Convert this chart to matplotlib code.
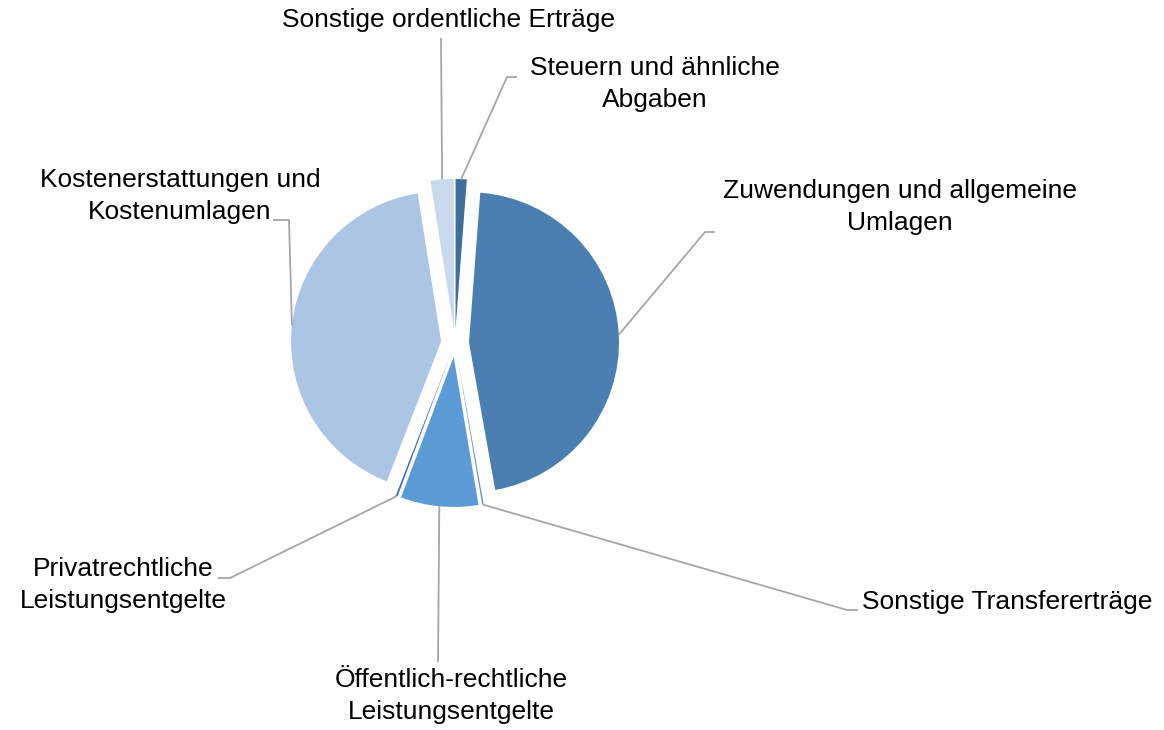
import numpy as np
import matplotlib
matplotlib.use("Agg")
import matplotlib.pyplot as plt

plt.rcParams['font.family'] = ['Liberation Sans', 'DejaVu Sans']

# shares in percent, clockwise from 12 o'clock
labels = ['Steuern und ähnliche\nAbgaben',
          'Zuwendungen und allgemeine\nUmlagen',
          'Sonstige Transfererträge',
          'Öffentlich-rechtliche\nLeistungsentgelte',
          'Privatrechtliche\nLeistungsentgelte',
          'Kostenerstattungen und\nKostenumlagen',
          'Sonstige ordentliche Erträge']
shares = [1.2, 46.0, 0.15, 8.35, 0.2, 41.6, 2.5]
colors = ['#3E6E9E', '#4B7FB1', '#5B8FC8', '#5B9BD5', '#3A6BC4', '#ADC5E4', '#C9D9EE']

W, H = 1164, 730

def px(x, y):
    # picture pixel -> data coords (y up)
    return x, H - y

# label layout: text position, alignment, leader line waypoints (pixels)
text_pos = [(655, 84), (900, 207), (862, 602), (451, 696), (123, 585), (180, 196), (448, 20)]
text_ha = ['center', 'center', 'left', 'center', 'center', 'center', 'center']
leader_pts = [[(507, 77), (517, 77)],
              [(705, 232), (715, 232)],
              [(847, 610), (858, 610)],
              [(438, 662)],
              [(230, 578), (218, 578)],
              [(289, 220), (273, 220)],
              [(441, 38)]]

fig = plt.figure(figsize=(W / 100, H / 100), dpi=100)
ax = fig.add_axes([0, 0, 1, 1])

radius = 150
wedges, _ = ax.pie(shares, colors=colors, radius=radius, center=px(455, 343),
                   explode=[14] * len(shares), startangle=90, counterclock=False,
                   wedgeprops=dict(linewidth=0), frame=True)

for w, lab, tp, ha, pts in zip(wedges, labels, text_pos, text_ha, leader_pts):
    tm = np.deg2rad((w.theta1 + w.theta2) / 2)
    cx, cy = w.center
    ax0 = cx + w.r * np.cos(tm)
    ay0 = cy + w.r * np.sin(tm)
    xs = [ax0] + [px(*p)[0] for p in pts]
    ys = [ay0] + [px(*p)[1] for p in pts]
    ax.plot(xs, ys, color='#A6A6A6', lw=1.3, solid_capstyle='butt')
    tx, ty = px(*tp)
    ax.text(tx, ty, lab, ha=ha, va='center', fontsize=19, color='black',
            multialignment='center', linespacing=1.37)

ax.set_xlim(0, W)
ax.set_ylim(0, H)
ax.set_aspect('equal')
ax.axis('off')

fig.savefig('out.png', dpi=100, facecolor='white')
